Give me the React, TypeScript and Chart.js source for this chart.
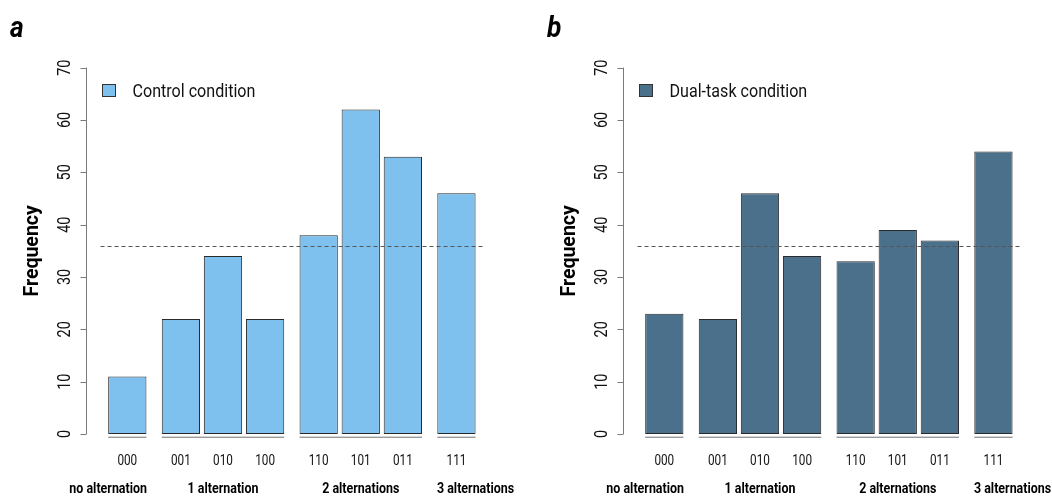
import React, { useEffect, useRef } from 'react';
import { Chart, registerables } from 'chart.js';

Chart.register(...registerables);

// ---------- data ----------
const categories = ['000', '001', '010', '100', '110', '101', '011', '111'];
const groupOf = [0, 1, 1, 1, 2, 2, 2, 3];
const groupLabels = ['no alternation', '1 alternation', '2 alternations', '3 alternations'];
const controlValues = [11, 22, 34, 22, 38, 62, 53, 46];
const dualTaskValues = [23, 22, 46, 34, 33, 39, 37, 54];
const yTicks = [0, 10, 20, 30, 40, 50, 60, 70];
const referenceLine = 36;

// ---------- layout (bar units) ----------
const LEAD = 0.2;
const INNER_SPACE = 0.1;
const GROUP_SPACE = 0.4;
const X_MIN = -0.39;
const X_MAX = 10.19;
const Y_MIN = -2.8;
const Y_MAX = 72.8;
// label anchor offsets for group labels relative to group centre (in bar widths)
const groupLabelShift = [-0.5, 0, 0, 0.5];

function barLefts(): number[] {
  const out: number[] = [];
  let x = LEAD;
  categories.forEach((_, i) => {
    if (i > 0) x += 1 + (groupOf[i] !== groupOf[i - 1] ? GROUP_SPACE : INNER_SPACE);
    out.push(x);
  });
  return out;
}
const lefts = barLefts();
const centers = lefts.map((l) => l + 0.5);

const PANEL_W = 515;
const PANEL_H = 497;
const FONT = 'Roboto, "Noto Sans", sans-serif';

function drawText(
  ctx: CanvasRenderingContext2D,
  text: string,
  x: number,
  y: number,
  o: { size: number; weight?: string; style?: string; align?: CanvasTextAlign; baseline?: CanvasTextBaseline; color?: string; sx?: number; rot?: number }
) {
  ctx.save();
  ctx.translate(x, y);
  if (o.rot) ctx.rotate(o.rot);
  ctx.scale(o.sx ?? 1, 1);
  ctx.font = `${o.style ?? 'normal'} ${o.weight ?? 'normal'} ${o.size}px ${FONT}`;
  ctx.textAlign = o.align ?? 'left';
  ctx.textBaseline = o.baseline ?? 'alphabetic';
  ctx.fillStyle = o.color ?? '#111';
  ctx.fillText(text, 0, 0);
  ctx.restore();
}

function makePlugin(letter: string, legendLabel: string, fill: string) {
  return {
    id: 'rstyle',
    afterDatasetsDraw(chart: any) {
      const ctx: CanvasRenderingContext2D = chart.ctx;
      const xs = chart.scales.x;
      const ys = chart.scales.y;
      ctx.save();
      // dashed reference line
      ctx.strokeStyle = '#555';
      ctx.lineWidth = 1;
      ctx.setLineDash([4, 3]);
      ctx.beginPath();
      const yRef = Math.round(ys.getPixelForValue(referenceLine)) + 0.5;
      ctx.moveTo(xs.getPixelForValue(lefts[0] - LEAD), yRef);
      ctx.lineTo(xs.getPixelForValue(lefts[lefts.length - 1] + 1 + LEAD), yRef);
      ctx.stroke();
      ctx.setLineDash([]);
      ctx.restore();
    },
    afterDraw(chart: any) {
      const ctx: CanvasRenderingContext2D = chart.ctx;
      const xs = chart.scales.x;
      const ys = chart.scales.y;
      const area = chart.chartArea;
      ctx.save();
      // y axis
      const ax = Math.round(area.left) + 0.5;
      ctx.strokeStyle = '#7a7a7a';
      ctx.lineWidth = 1;
      ctx.beginPath();
      ctx.moveTo(ax, ys.getPixelForValue(yTicks[0]));
      ctx.lineTo(ax, ys.getPixelForValue(yTicks[yTicks.length - 1]));
      yTicks.forEach((t) => {
        const py = Math.round(ys.getPixelForValue(t)) + 0.5;
        ctx.moveTo(ax - 6, py);
        ctx.lineTo(ax, py);
      });
      ctx.stroke();
      yTicks.forEach((t) => {
        drawText(ctx, String(t), area.left - 15.5, ys.getPixelForValue(t), {
          size: 18, sx: 0.8, align: 'center', rot: -Math.PI / 2,
        });
      });
      // y title
      drawText(ctx, 'Frequency', 37.5, (area.top + area.bottom) / 2, {
        size: 20.5, weight: 'bold', sx: 0.95, align: 'center', rot: -Math.PI / 2, color: '#000',
      });
      // panel letter
      drawText(ctx, letter, 10, 37, { size: 30, weight: 'bold', style: 'italic', sx: 0.88, color: '#000' });
      // legend
      ctx.fillStyle = fill;
      ctx.fillRect(102, 84, 14, 13);
      ctx.strokeStyle = '#333';
      ctx.strokeRect(102.5, 84.5, 13, 12);
      drawText(ctx, legendLabel, 132.5, 97, { size: 18.5, sx: 0.87 });
      // group underlines & labels
      const groupCount = groupLabels.length;
      for (let g = 0; g < groupCount; g++) {
        const idx = categories.map((_, i) => i).filter((i) => groupOf[i] === g);
        const x0 = xs.getPixelForValue(lefts[idx[0]]);
        const x1 = xs.getPixelForValue(lefts[idx[idx.length - 1]] + 1);
        ctx.fillStyle = '#d6d6d6';
        ctx.fillRect(x0, 436, x1 - x0, 1);
        ctx.fillStyle = '#9a9a9a';
        ctx.fillRect(x0, 437, x1 - x0, 1);
        const cx = (x0 + x1) / 2 + groupLabelShift[g] * (xs.getPixelForValue(1) - xs.getPixelForValue(0));
        drawText(ctx, groupLabels[g], cx, 489, { size: 15, weight: 'bold', sx: 0.83, align: 'center', baseline: 'middle', color: '#000' });
      }
      categories.forEach((c, i) => {
        drawText(ctx, c, xs.getPixelForValue(centers[i]), 461, { size: 14, sx: 0.84, align: 'center', baseline: 'middle' });
      });
      ctx.restore();
    },
  };
}

function Panel({ values, fill, letter, label, left }: { values: number[]; fill: string; letter: string; label: string; left: number }) {
  const ref = useRef<HTMLCanvasElement | null>(null);
  useEffect(() => {
    if (!ref.current) return;
    const chart = new Chart(ref.current, {
      type: 'bar',
      data: {
        datasets: [
          {
            label,
            data: values.map((v, i) => ({ x: centers[i], y: v })),
            backgroundColor: fill,
            borderColor: '#2a2a2a',
            borderWidth: 1,
            borderSkipped: false,
            barPercentage: 1 / (1 + INNER_SPACE),
            categoryPercentage: 1,
          } as any,
        ],
      },
      options: {
        responsive: false,
        animation: false,
        devicePixelRatio: 1,
        layout: { padding: { left: 85.6, right: 24.5, top: 53, bottom: 48.3 } },
        plugins: { legend: { display: false }, tooltip: { enabled: false } },
        scales: {
          x: {
            type: 'linear',
            min: X_MIN,
            max: X_MAX,
            offset: false,
            display: false,
            bounds: 'data',
            afterBuildTicks: (s: any) => { s.ticks = []; },
          } as any,
          y: {
            type: 'linear',
            min: Y_MIN,
            max: Y_MAX,
            display: false,
            bounds: 'data',
          } as any,
        },
      },
      plugins: [makePlugin(letter, label, fill)],
    });
    return () => chart.destroy();
  }, []);
  return (
    <canvas
      ref={ref}
      width={PANEL_W}
      height={PANEL_H}
      style={{ position: 'absolute', left, top: 0, width: PANEL_W, height: PANEL_H }}
    />
  );
}

export default function App() {
  return (
    <div style={{ position: 'absolute', left: 0, top: 0, width: 1052, height: 497, background: '#fff' }}>
      <Panel values={controlValues} fill="#7EC0EE" letter="a" label="Control condition" left={0} />
      <Panel values={dualTaskValues} fill="#4A708B" letter="b" label="Dual-task condition" left={537} />
    </div>
  );
}
